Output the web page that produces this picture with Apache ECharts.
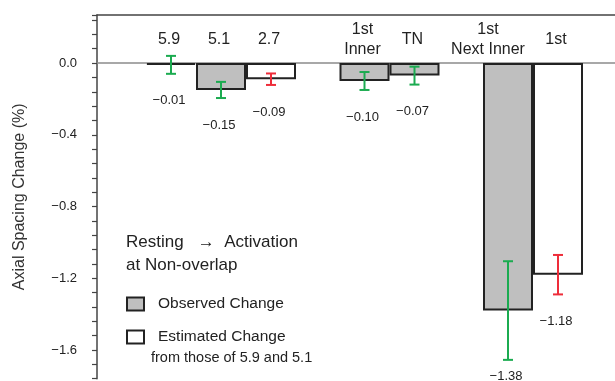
<!DOCTYPE html>
<html>
<head>
<meta charset="utf-8">
<script src="https://cdn.jsdelivr.net/npm/echarts@6/dist/echarts.min.js"></script>
<style>
  html, body { margin: 0; padding: 0; background: #fff; }
  #chart { width: 615px; height: 381px; }
</style>
</head>
<body>
<div id="chart"></div>
<script>
// 数据
const categories = ['5.9', '5.1', '2.7', '1st\nInner', 'TN', '1st\nNext Inner', '1st'];
const groupOf = [0, 0, 0, 1, 1, 2, 2];
const observed = [-0.01, -0.15, null, -0.10, -0.07, -1.38, null];
const observedErr = [0.05, 0.045, null, 0.05, 0.05, 0.275, null];
const estimated = [null, null, -0.09, null, null, null, -1.18];
const estimatedErr = [null, null, 0.032, null, null, null, 0.11];
const yTickLabels = [0.0, -0.4, -0.8, -1.2, -1.6];

const GROUP_GAP = 0.87; // 组间空隙(以柱宽为单位)
const FONT = '"Liberation Sans", Arial, Helvetica, sans-serif';
const TEXT = '#222';
const GREEN = '#1bab50';
const RED = '#ee2d3a';
// 个别类别标签的水平微调(px)
const LABEL_DX = { 5: -18 };

const pos = categories.map((c, i) => i + groupOf[i] * GROUP_GAP);

function barData(vals) {
  return vals.map((v, i) => v == null ? null : [pos[i], v]).filter(d => d);
}
function errData(vals, errs) {
  return vals.map((v, i) => v == null ? null : [pos[i], v, errs[i]]).filter(d => d);
}
function fmtMinus(v) {
  if (Math.abs(v) < 1e-9) return '0.0';
  return (v < 0 ? '\u2212' : '') + Math.abs(v).toFixed(1);
}

function errorBar(color) {
  return function (params, api) {
    const x = api.value(0), v = api.value(1), e = api.value(2);
    const top = api.coord([x, v + e]);
    const bot = api.coord([x, v - e]);
    const cap = 5;
    const style = { stroke: color, lineWidth: 2 };
    return {
      type: 'group',
      children: [
        { type: 'line', shape: { x1: top[0], y1: top[1], x2: bot[0], y2: bot[1] }, style: style },
        { type: 'line', shape: { x1: top[0] - cap, y1: top[1], x2: top[0] + cap, y2: top[1] }, style: style },
        { type: 'line', shape: { x1: bot[0] - cap, y1: bot[1], x2: bot[0] + cap, y2: bot[1] }, style: style }
      ]
    };
  };
}

// 数值标签:放在误差线下端下方
function valueLabel(params, api) {
  const x = api.value(0), v = api.value(1), e = api.value(2);
  const p = api.coord([x, v - e]);
  const y = Math.min(p[1] + 27, api.getHeight() - 5);
  return {
    type: 'text',
    style: {
      text: '\u2212' + Math.abs(v).toFixed(2),
      x: p[0] - 2, y: y,
      align: 'center', verticalAlign: 'middle',
      fontSize: 13, fontFamily: FONT, fill: TEXT
    }
  };
}

// 类别标签:零线上方
function categoryLabel(params, api) {
  const x = api.value(0), idx = api.value(1);
  const p = api.coord([x, 0]);
  return {
    type: 'text',
    style: {
      text: categories[idx],
      x: p[0] + (LABEL_DX[idx] || 0) - 2, y: p[1] - 23,
      align: 'center', verticalAlign: 'middle',
      fontSize: 16, lineHeight: 20, fontFamily: FONT, fill: TEXT
    }
  };
}

const chart = echarts.init(document.getElementById('chart'), null, { renderer: 'canvas' });

const option = {
  animation: false,
  backgroundColor: '#fff',
  textStyle: { fontFamily: FONT },
  title: {
    text: 'Resting   \u2192  Activation\nat Non-overlap',
    left: 126, top: 231, padding: 0,
    textStyle: { fontSize: 17, fontWeight: 'normal', lineHeight: 23, color: TEXT, fontFamily: FONT }
  },
  legend: {
    orient: 'vertical',
    left: 126, top: 296, padding: 0,
    icon: 'rect',
    itemWidth: 17, itemHeight: 13, itemGap: 17,
    selectedMode: false,
    data: ['Observed Change', 'Estimated Change'],
    textStyle: { fontSize: 15.5, color: TEXT, fontFamily: FONT, padding: [0, 0, 0, 9] }
  },
  graphic: [{
    type: 'text', left: 151, top: 350,
    style: { text: 'from those of 5.9 and 5.1', fontSize: 14.5, fill: TEXT, fontFamily: FONT }
  }],
  grid: { left: 97, right: 0, top: 15, bottom: 2.3, outerBoundsMode: 'none' },
  xAxis: [{
    type: 'value', min: -1.48, max: 8.88,
    axisLine: { show: true, onZero: true, lineStyle: { color: '#8c8c8c', width: 1.5 } },
    axisTick: { show: false }, axisLabel: { show: false }, splitLine: { show: false }
  }, {
    type: 'value', position: 'top', min: -1.48, max: 8.88,
    axisLine: { show: true, onZero: false, lineStyle: { color: '#444', width: 1.5 } },
    axisTick: { show: false }, axisLabel: { show: false }, splitLine: { show: false }
  }],
  yAxis: {
    type: 'value', min: -1.76, max: 0.268, interval: 0.08,
    name: 'Axial Spacing Change (%)',
    nameLocation: 'middle', nameGap: 69,
    nameTextStyle: { fontSize: 16, color: '#333', fontFamily: FONT },
    axisLine: { show: true, onZero: false, lineStyle: { color: '#444', width: 1.5 } },
    axisTick: { show: true, length: 5, lineStyle: { color: '#444', width: 1.2 } },
    axisLabel: {
      margin: 20, fontSize: 13, color: TEXT, fontFamily: FONT,
      formatter: v => yTickLabels.some(t => Math.abs(t - v) < 1e-6) ? fmtMinus(v) : ''
    },
    splitLine: { show: false }
  },
  series: [{
    name: 'Observed Change', type: 'bar',
    data: barData(observed),
    barWidth: 50, barGap: '-100%',
    itemStyle: { color: '#bfbfbf', borderColor: '#222', borderWidth: 2 }
  }, {
    name: 'Estimated Change', type: 'bar',
    data: barData(estimated),
    barWidth: 50, barGap: '-100%',
    itemStyle: { color: '#fff', borderColor: '#222', borderWidth: 2 }
  }, {
    type: 'custom', renderItem: errorBar(GREEN),
    data: errData(observed, observedErr), z: 5, silent: true
  }, {
    type: 'custom', renderItem: errorBar(RED),
    data: errData(estimated, estimatedErr), z: 5, silent: true
  }, {
    type: 'custom', renderItem: valueLabel,
    data: errData(observed, observedErr).concat(errData(estimated, estimatedErr)),
    z: 6, silent: true, clip: false
  }, {
    type: 'custom', renderItem: categoryLabel,
    data: pos.map((p, i) => [p, i]),
    z: 6, silent: true, clip: false
  }]
};

chart.setOption(option);
</script>
</body>
</html>
